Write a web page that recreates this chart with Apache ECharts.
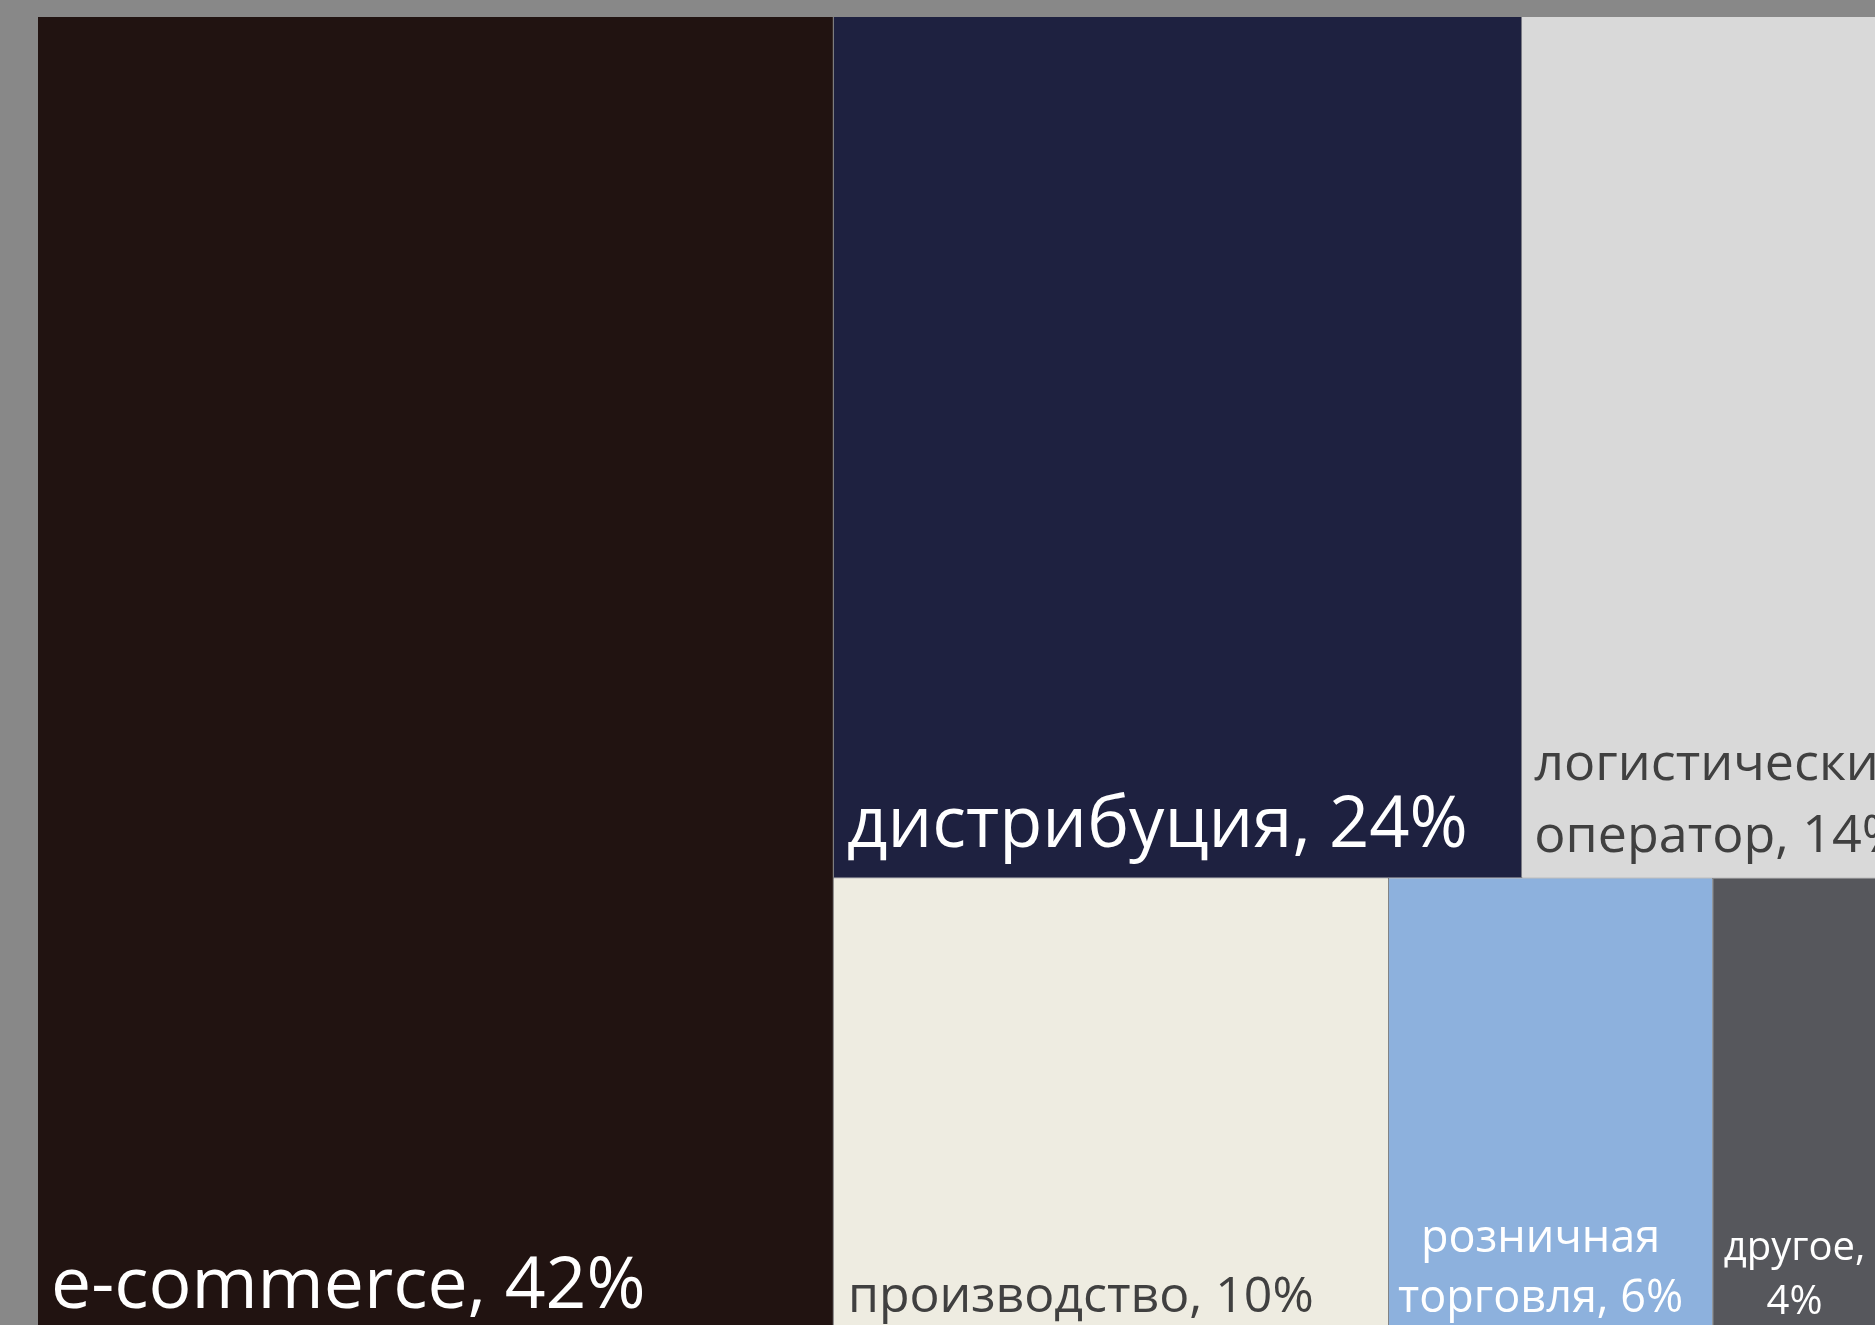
<!DOCTYPE html>
<html>
<head>
<meta charset="utf-8">
<script src="https://cdn.jsdelivr.net/npm/echarts@6/dist/echarts.min.js"></script>
<style>
  html, body { margin: 0; padding: 0; background: #888888; }
  #chart { width: 1875px; height: 1325px; }
</style>
</head>
<body>
<div id="chart"></div>
<script>
// ---- data ----
const categories = ['e-commerce', 'дистрибуция', 'логистический оператор', 'производство', 'розничная торговля', 'другое'];
// shares in %, estimated from the tile areas (labels show them rounded)
const shares = [42.0, 23.8, 14.2, 10.1, 5.9, 4.0];
// where the label breaks into two lines: 'none', 'name' (between words of the name), 'value' (before the value)
const wraps = ['none', 'none', 'name', 'none', 'name', 'value'];

// ---- styles ----
const colors = ['#211311', '#1E2140', '#D9D9D9', '#EEECE1', '#8DB1DD', '#56575C'];
const textColors = ['#FFFFFF', '#FFFFFF', '#404040', '#404040', '#FFFFFF', '#FFFFFF'];
const fontSizes = [71.5, 70.5, 52, 50, 45, 40];
const lineHeights = [70, 70, 72, 50, 60, 54];
const positions = ['insideBottomLeft', 'insideBottomLeft', 'insideBottomLeft', 'insideBottomLeft', 'insideBottom', 'insideBottom'];
const pads = [[0, 0, 8, 13], [0, 0, 16, 13], [0, 0, 4, 12], [0, 0, 8, 14], [0, 0, 2, 0], [0, 0, 1, 0]];
const offsets = [[0, 0], [0, 0], [0, 0], [0, 0], [-10, 0], [-28, 0]];

function labelText(i) {
  const name = categories[i], v = Math.round(shares[i]) + '%';
  if (wraps[i] === 'name') return name.replace(' ', '\n') + ', ' + v;
  if (wraps[i] === 'value') return name + ',\n' + v;
  return name + ', ' + v;
}

const data = categories.map((name, i) => ({
  name: name,
  value: shares[i],
  itemStyle: { color: colors[i] },
  label: {
    show: true,
    position: positions[i],
    distance: 0,
    offset: offsets[i],
    padding: pads[i],
    color: textColors[i],
    fontSize: fontSizes[i],
    lineHeight: lineHeights[i],
    align: positions[i] === 'insideBottom' ? 'center' : 'left',
    overflow: 'none',
    formatter: () => labelText(i)
  }
}));

const chart = echarts.init(document.getElementById('chart'));
chart.setOption({
  backgroundColor: '#888888',
  animation: false,
  textStyle: { fontFamily: '"Open Sans", "Noto Sans", sans-serif' },
  series: [{
    type: 'treemap',
    left: 38,
    top: 17,
    width: 1894,
    height: 1314,
    roam: false,
    nodeClick: false,
    squareRatio: 1.15,
    breadcrumb: { show: false },
    label: { fontFamily: '"Open Sans", "Noto Sans", sans-serif' },
    levels: [
      { itemStyle: { borderWidth: 0, gapWidth: 1, borderColor: '#7a7a7a' } },
      { itemStyle: { borderWidth: 0, gapWidth: 0 } }
    ],
    data: data
  }]
});
</script>
</body>
</html>
